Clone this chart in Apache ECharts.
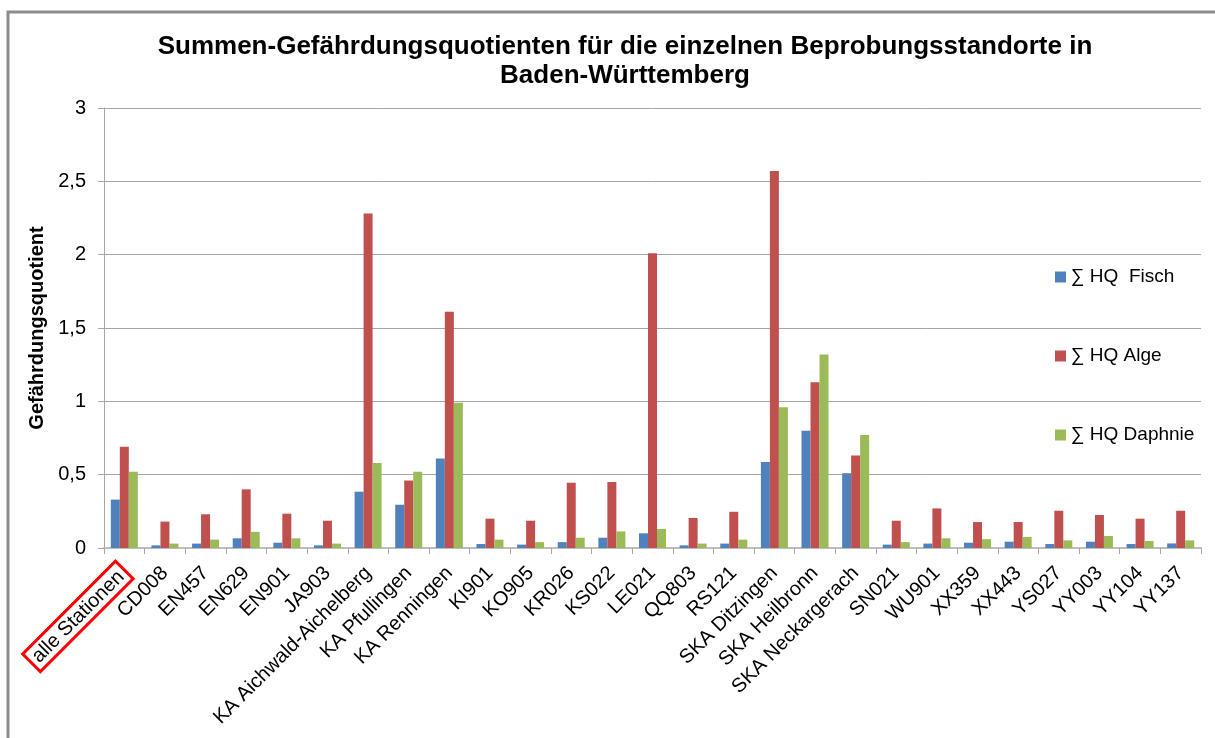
<!DOCTYPE html>
<html>
<head>
<meta charset="utf-8">
<script src="https://cdn.jsdelivr.net/npm/echarts@6/dist/echarts.min.js"></script>
<style>
html,body{margin:0;padding:0;background:#fff;}
#main{width:1215px;height:738px;}
</style>
</head>
<body>
<div id="main"></div>
<script>
const categories = ['alle Stationen','CD008','EN457','EN629','EN901','JA903','KA Aichwald-Aichelberg','KA Pfullingen','KA Renningen','KI901','KO905','KR026','KS022','LE021','QQ803','RS121','SKA Ditzingen','SKA Heilbronn','SKA Neckargerach','SN021','WU901','XX359','XX443','YS027','YY003','YY104','YY137'];
const hqFisch   = [0.33,0.018,0.03,0.066,0.036,0.018,0.384,0.295,0.61,0.027,0.023,0.04,0.07,0.10,0.018,0.03,0.586,0.80,0.51,0.023,0.03,0.036,0.043,0.027,0.043,0.027,0.031];
const hqAlge    = [0.69,0.18,0.23,0.40,0.234,0.186,2.28,0.46,1.61,0.20,0.186,0.445,0.45,2.01,0.205,0.247,2.57,1.13,0.63,0.186,0.27,0.177,0.177,0.254,0.225,0.20,0.254];
const hqDaphnie = [0.52,0.03,0.057,0.11,0.066,0.03,0.58,0.52,0.99,0.057,0.04,0.07,0.113,0.13,0.03,0.057,0.96,1.32,0.77,0.04,0.066,0.06,0.075,0.052,0.082,0.048,0.052];
const seriesNames = ['\u2211 HQ  Fisch','\u2211 HQ Alge','\u2211 HQ Daphnie'];
const yTicks = {min:0, max:3, interval:0.5};

const chart = echarts.init(document.getElementById('main'), null, {renderer:'canvas'});
const font = 'Liberation Sans, Arial, sans-serif';
function bar(name, data, color){
  return {name, type:'bar', data, barWidth:9, barGap:'0%',
    itemStyle:{color}, emphasis:{disabled:true}};
}
chart.setOption({
  animation:false,
  textStyle:{fontFamily:font},
  title:{
    text:'Summen-Gef\u00e4hrdungsquotienten f\u00fcr die einzelnen Beprobungsstandorte in\nBaden-W\u00fcrttemberg',
    left:620, top:27, textAlign:'center',
    textStyle:{fontFamily:font, fontSize:26, fontWeight:'bold', color:'#000', lineHeight:29}
  },
  graphic:[{type:'rect', shape:{x:8, y:12, width:1215, height:760},
    style:{fill:'none', stroke:'#8c8c8c', lineWidth:3}, silent:true}],
  legend:{
    orient:'vertical', left:1050, top:261, itemWidth:11, itemHeight:11, itemGap:57,
    icon:'rect',
    textStyle:{fontFamily:font, fontSize:19, color:'#000', lineHeight:22},
    data:seriesNames
  },
  grid:{left:104, right:14, top:108, bottom:190, containLabel:false},
  xAxis:{
    type:'category', data:categories,
    axisLine:{lineStyle:{color:'#bdbdbd', width:2}},
    axisTick:{show:true, length:6, lineStyle:{color:'#a6a6a6'}},
    axisLabel:{
      interval:0, rotate:45, margin:22, fontSize:20, color:'#000', fontFamily:font,
      formatter:function(v,i){ return i===0 ? '{box|'+v+'}' : v; },
      rich:{box:{fontSize:20, color:'#000', fontFamily:font, borderColor:'#ff0000', borderWidth:3, padding:[3,5,2,5]}}
    }
  },
  yAxis:{
    type:'value', min:yTicks.min, max:yTicks.max, interval:yTicks.interval,
    name:'Gef\u00e4hrdungsquotient', nameLocation:'middle', nameGap:47, nameRotate:90,
    nameTextStyle:{fontFamily:font, fontSize:20, fontWeight:'bold', color:'#000'},
    axisLine:{show:true, lineStyle:{color:'#a6a6a6'}},
    axisTick:{show:true, length:6, lineStyle:{color:'#a6a6a6'}},
    axisLabel:{margin:18, fontSize:20, color:'#000', fontFamily:font,
      formatter:function(v){ return String(v).replace('.',','); }},
    splitLine:{lineStyle:{color:'#a6a6a6'}}
  },
  series:[
    bar(seriesNames[0], hqFisch, '#4f81bd'),
    bar(seriesNames[1], hqAlge, '#c0504d'),
    bar(seriesNames[2], hqDaphnie, '#9bbb59')
  ]
});
</script>
</body>
</html>
